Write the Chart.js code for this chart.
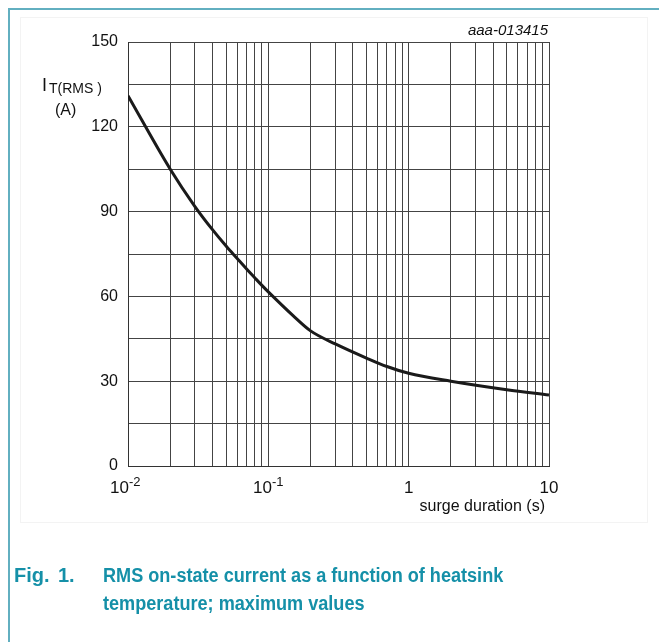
<!DOCTYPE html>
<html>
<head>
<meta charset="utf-8">
<script src="https://cdn.jsdelivr.net/npm/chart.js@4"></script>
<style>
  html, body { margin: 0; padding: 0; background: #fff; }
  #wrap { position: relative; width: 659px; height: 642px; overflow: hidden; }
  #frameTop { position: absolute; left: 9px; top: 8px; width: 650px; height: 2px; background: #62afc0; }
  #frameLeft { position: absolute; left: 8px; top: 8px; width: 2px; height: 634px; background: #62afc0; }
  #figBox { position: absolute; left: 20px; top: 17px; width: 626px; height: 504px; border: 1px solid #f3f3f3; }
  .cap { position: absolute; font-family: "Liberation Sans", Arial, sans-serif; font-weight: bold;
         font-size: 20px; color: #1590a8; white-space: nowrap; line-height: normal; }
  .narrow { transform: scaleX(0.905); transform-origin: left top; }
  canvas { position: absolute; left: 0; top: 0; }
</style>
</head>
<body>
<div id="wrap">
  <div id="figBox"></div>
  <canvas id="surgeChart" width="659" height="642"></canvas>
  <div id="frameTop"></div>
  <div id="frameLeft"></div>
  <div class="cap" style="left:14px; top:564px;">Fig.</div>
  <div class="cap" style="left:58px; top:564px;">1.</div>
  <div class="cap narrow" style="left:103px; top:564px;">RMS on-state current as a function of heatsink</div>
  <div class="cap narrow" style="left:103px; top:592px;">temperature; maximum values</div>
</div>
<script>
// surge duration (s) vs maximum RMS current (A)
const durations = [0.01, 0.02, 0.03, 0.04, 0.05, 0.06, 0.07, 0.08, 0.09, 0.1, 0.15, 0.2, 0.3, 0.5, 0.7, 1, 2, 5, 10];
const currents = [131, 105, 91.8, 83.6, 77.8, 73.4, 69.7, 66.6, 63.9, 61.6, 53.2, 47.8, 43.2, 38.2, 35.2, 32.8, 30, 27, 25.1];

// log grid lines on x, labelled decades
const xGrid = [0.01, 0.02, 0.03, 0.04, 0.05, 0.06, 0.07, 0.08, 0.09,
               0.1, 0.2, 0.3, 0.4, 0.5, 0.6, 0.7, 0.8, 0.9,
               1, 2, 3, 4, 5, 6, 7, 8, 9, 10];
const xLabels = [[0.01, '10', '-2'], [0.1, '10', '-1'], [1, '1', ''], [10, '10', '']];
const yLabels = [0, 30, 60, 90, 120, 150];

const FONT = '"Liberation Sans", Arial, sans-serif';

const textPlugin = {
    id: 'textPlugin',
    afterDraw(chart) {
        const ctx = chart.ctx;
        const xs = chart.scales.x;
        const ys = chart.scales.y;
        ctx.save();
        ctx.fillStyle = '#111';

        // y tick labels
        ctx.font = '16px ' + FONT;
        ctx.textAlign = 'right';
        ctx.textBaseline = 'middle';
        yLabels.forEach(v => ctx.fillText(String(v), 118, ys.getPixelForValue(v)));

        // x tick labels with superscripts
        ctx.textBaseline = 'alphabetic';
        xLabels.forEach(([v, base, sup]) => {
            const px = xs.getPixelForValue(v);
            ctx.font = '17px ' + FONT;
            const wb = ctx.measureText(base).width;
            ctx.font = '13px ' + FONT;
            const ws = sup ? ctx.measureText(sup).width : 0;
            let left = px - (wb + ws) / 2;
            if (v === 0.01) left = 110;
            ctx.textAlign = 'left';
            ctx.font = '17px ' + FONT;
            ctx.fillText(base, left, 493);
            if (sup) {
                ctx.font = '13px ' + FONT;
                ctx.fillText(sup, left + wb, 486);
            }
        });

        // x axis title
        ctx.font = '16px ' + FONT;
        ctx.textAlign = 'right';
        ctx.fillText('surge duration (s)', 545, 511);

        // y axis title
        ctx.textAlign = 'left';
        ctx.font = '18px ' + FONT;
        ctx.fillText('I', 42, 91);
        ctx.font = '14px ' + FONT;
        ctx.fillText('T(RMS )', 49, 93);
        ctx.font = '16px ' + FONT;
        ctx.fillText('(A)', 55, 115);

        // figure code
        ctx.font = 'italic 15px ' + FONT;
        ctx.textAlign = 'right';
        ctx.fillText('aaa-013415', 548, 35);
        ctx.restore();
    }
};

new Chart(document.getElementById('surgeChart'), {
    type: 'line',
    data: {
        datasets: [{
            data: durations.map((d, i) => ({ x: d, y: currents[i] })),
            borderColor: '#1a1a1a',
            borderWidth: 3,
            pointRadius: 0,
            cubicInterpolationMode: 'monotone',
            fill: false
        }]
    },
    options: {
        responsive: false,
        animation: false,
        layout: { padding: { left: 128, right: 110, top: 42, bottom: 176 } },
        plugins: { legend: { display: false }, tooltip: { enabled: false } },
        scales: {
            x: {
                type: 'logarithmic',
                min: 0.01,
                max: 10,
                afterBuildTicks: axis => { axis.ticks = xGrid.map(v => ({ value: v })); },
                ticks: { display: false },
                grid: { color: '#444', lineWidth: 1, drawTicks: false },
                border: { color: '#333', width: 1 }
            },
            y: {
                min: 0,
                max: 150,
                ticks: { display: false, stepSize: 15 },
                grid: { color: '#444', lineWidth: 1, drawTicks: false },
                border: { color: '#333', width: 1 }
            }
        }
    },
    plugins: [textPlugin]
});
</script>
</body>
</html>
